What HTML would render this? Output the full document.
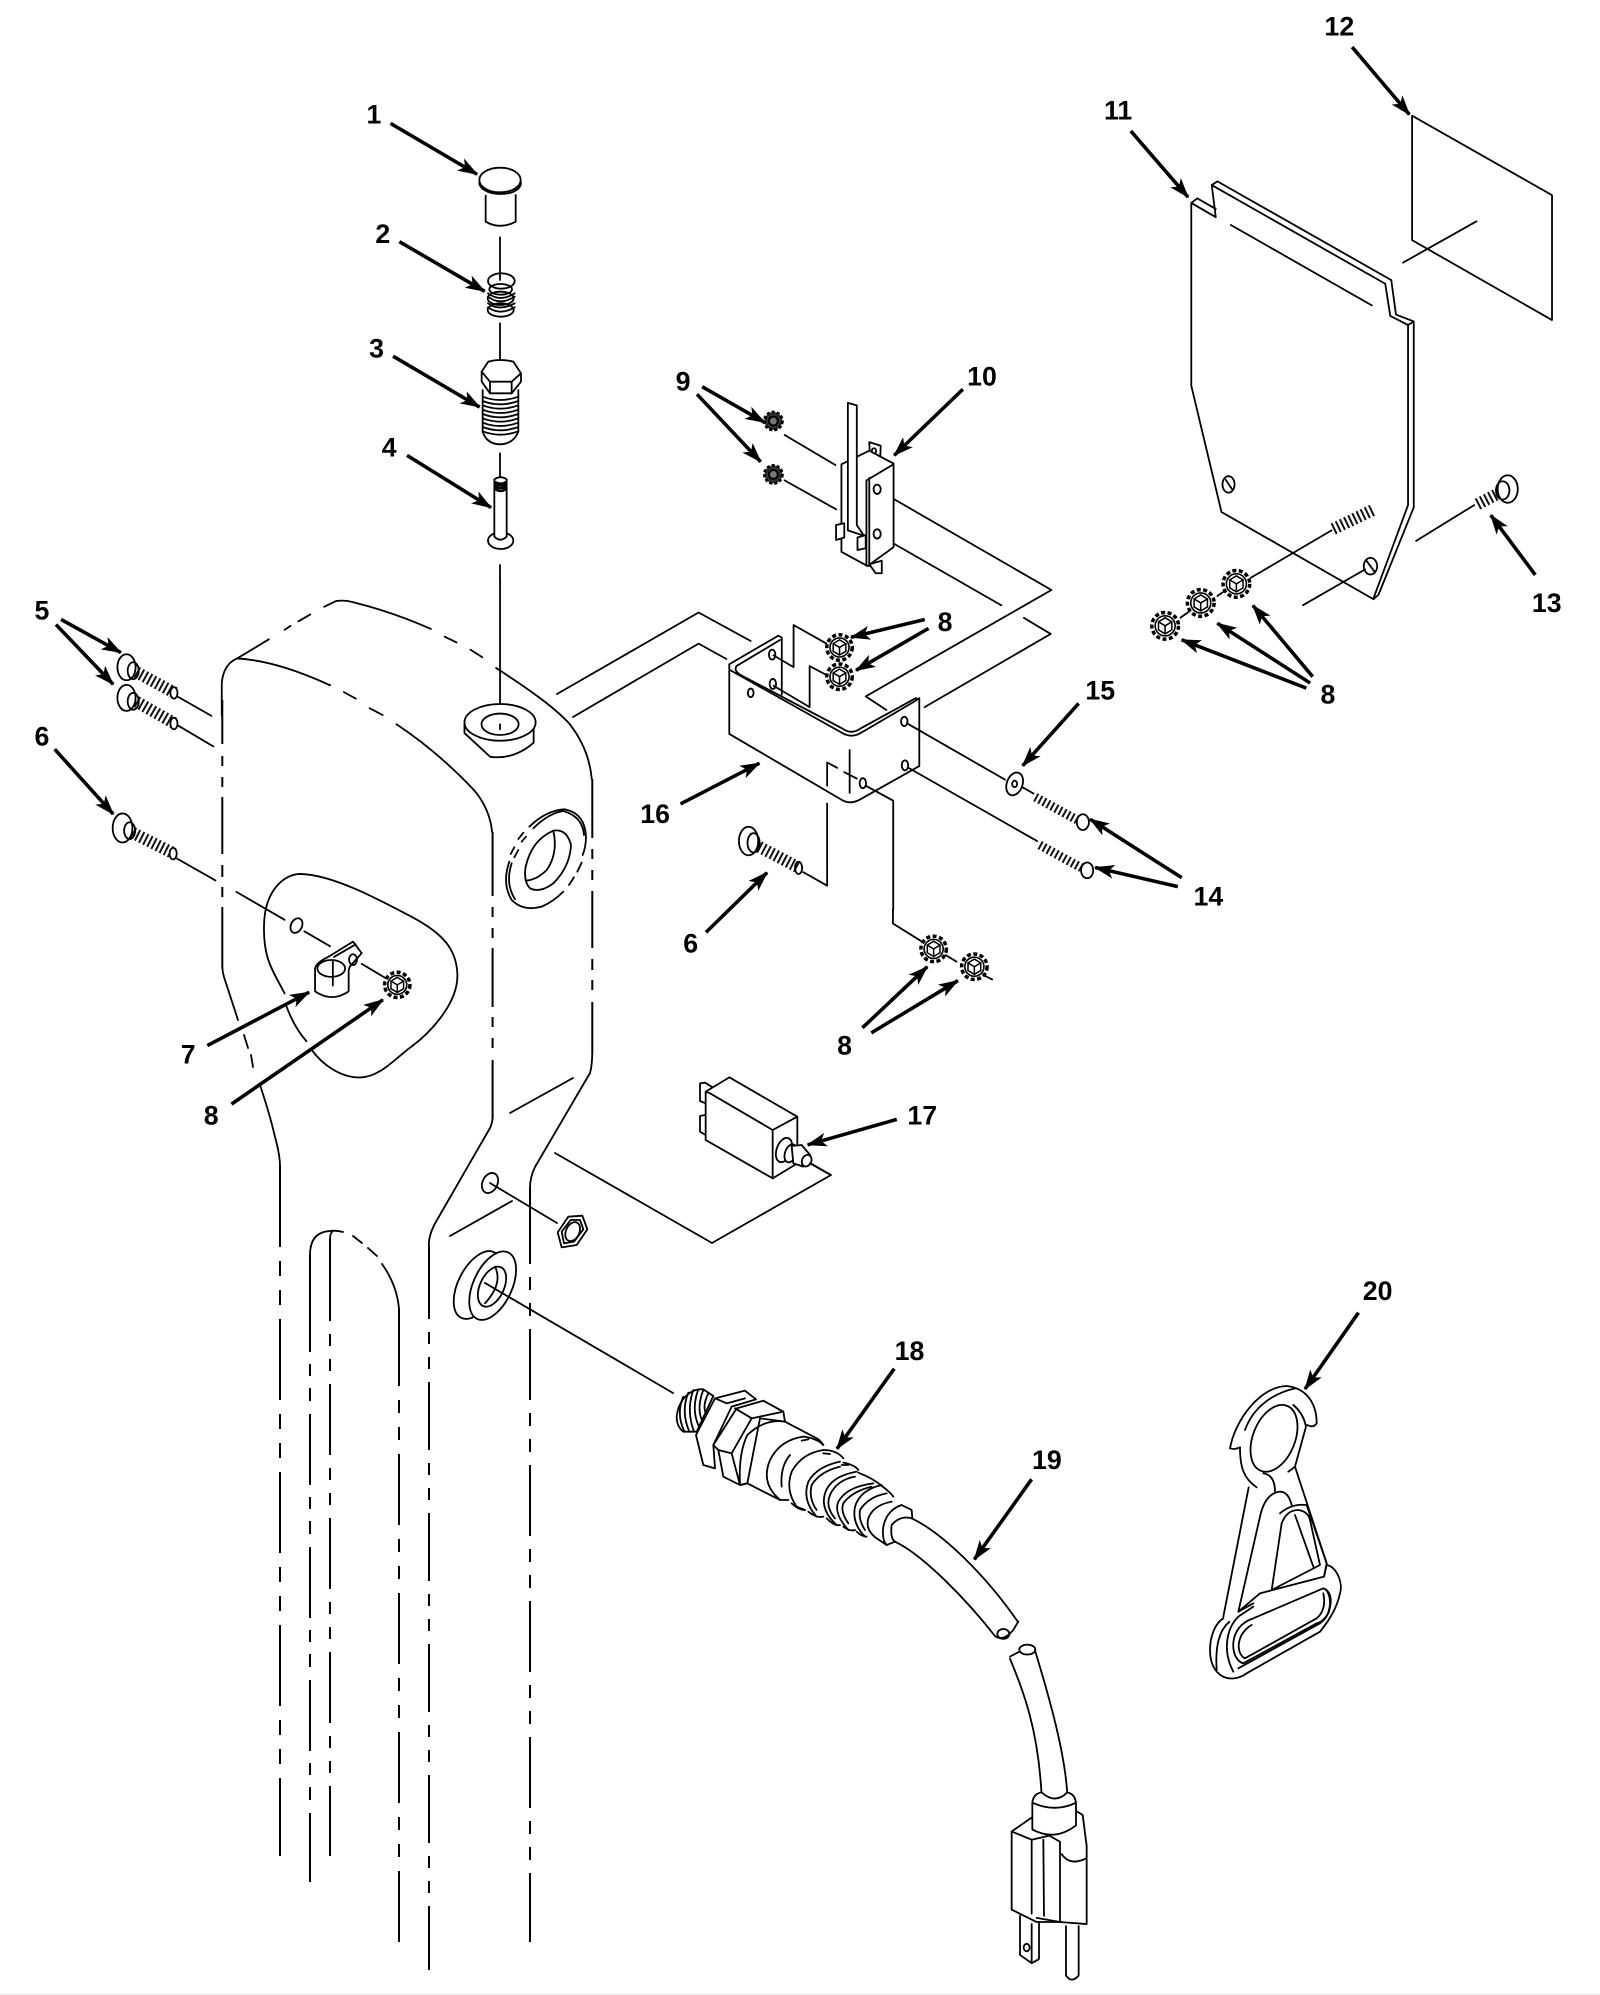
<!DOCTYPE html>
<html><head><meta charset="utf-8"><style>
html,body{margin:0;padding:0;background:#fff}
svg{display:block}
svg *{vector-effect:non-scaling-stroke}
.t{fill:none;stroke:#000;stroke-width:1.8;stroke-linejoin:round;stroke-linecap:round}
.w{fill:#fff;stroke:#000;stroke-width:1.8;stroke-linejoin:round}
.c{fill:none;stroke:#111;stroke-width:12;stroke-dasharray:2 2.6}
.p{fill:none;stroke:#000;stroke-width:2}
.a{stroke:#000;stroke-width:2.8;fill:none;vector-effect:none;marker-end:url(#ah)}
text{font-family:"Liberation Sans",sans-serif;font-weight:bold;font-size:21px;text-anchor:middle;fill:#000}
</style></head><body>
<svg xmlns="http://www.w3.org/2000/svg" width="1600" height="1995">
<defs>
<marker id="ah" markerUnits="userSpaceOnUse" markerWidth="20" markerHeight="14" refX="15" refY="7" orient="auto"><polygon points="0,1.5 16,7 0,12.5 4,7" fill="#000"/></marker>
<g id="n"><circle r="10" fill="#fff" stroke="#000" stroke-width="3.5" stroke-dasharray="4 2.5"/><circle r="7.5" fill="#fff" stroke="#000" stroke-width="1.6"/><path d="M-5,-3 L0,-6 L5,-3 L5,3 L0,6 L-5,3Z M0,0 L-5,-3 M0,0 L5,-3 M0,0 V6" fill="none" stroke="#000" stroke-width="1.5"/></g>
<g id="d"><circle r="7" fill="#333" stroke="#000" stroke-width="3" stroke-dasharray="3 2"/><circle r="3.5" fill="#777" stroke="#000" stroke-width="2"/></g>
</defs>
<rect x="0" y="1994" width="1600" height="1" fill="#e8e8e8"/>

<!-- lower body phantom lines (true px) -->
<path class="p" style="stroke-dasharray:81 14 15 14 15 14" d="M280,1166 V1856"/>
<path class="p" style="stroke-dasharray:71 12 12 12 13 13" d="M310,1281 V1882"/><path class="p" d="M310,1255 V1281"/>
<path class="p" style="stroke-dasharray:71 13 12 13 12 13" d="M330,1250 V1856"/><path class="p" d="M330,1239 V1250"/>
<path class="p" style="stroke-dasharray:71 14 13 14 13 14" d="M399,1315 V1944"/><path class="p" d="M399,1309 V1315"/>
<path class="p" style="stroke-dasharray:68 13 12 13 12 13" d="M429,1251 V1970"/><path class="p" d="M429,1247 V1251"/>
<path class="p" style="stroke-dasharray:71 13 13 13 13 13" d="M530,1193 V1942"/><path class="p" d="M530,1188 V1193"/>
<path class="p" d="M592.3,779 V838 M592.3,849 V859 M592.3,870 V880 M592.3,891 V948 M592.3,959 V970 M592.3,980 V990 M592.3,1002 V1053"/>
<path class="p" d="M492.6,832 V896 M492.6,907 V917 M492.6,928 V938 M492.6,948 V1007 M492.6,1017 V1027 M492.6,1038 V1048 M492.6,1060 V1118"/>
<path class="p" d="M222.3,700 V744 M222.3,756 V766 M222.3,777 V787 M222.3,797 V854 M222.3,865 V877 M222.3,887 V897 M222.3,907 V967"/>
<path class="t" d="M222.3,967 Q222.5,972 224,977 L238,1020 M244,1035 L248,1048 M251,1055 L253,1067 M260,1085 Q270,1115 275,1137 Q280,1155 280,1166"/>
<path class="t" d="M310,1255 Q310,1232 330,1231 Q336,1230 343,1232 M353,1236 L362,1243 M368,1248 L377,1256 M382,1264 Q397,1285 399,1309 M330,1239 Q330,1233 333,1231"/>
<path class="t" d="M592.3,1053 Q592,1066 590,1073 L535,1167 Q530,1177 530,1188 M492.6,1118 Q492,1124 490,1128 L437,1220 Q428,1235 429,1247"/>
<path class="t" d="M573,1078 L510,1113 M555,1153 L712,1243 L831,1175 L810,1163 M490,1183 L557,1223 M512,1201 L450,1236"/>
<path class="t" d="M557,694 L698.6,612.5 L750.7,641 M573,717 L698.6,643.6 L726.4,659"/>
<ellipse class="t" cx="490" cy="1183" rx="7.5" ry="10.5" transform="rotate(25 490 1183)"/>
<g transform="translate(420,1040) scale(.33333)">
<path class="w" d="M445,530 L487,527 L502,568 L470,615 L425,622 L413,577 Z"/>
<path class="t" d="M425,575 L452,540 L480,540 L490,568 L462,605 L432,610 Z"/>
<ellipse class="t" cx="458" cy="575" rx="20" ry="30" transform="rotate(25 458 575)"/>
<ellipse class="w" cx="173" cy="735" rx="58" ry="110" transform="rotate(27 173 735)"/>
<ellipse class="w" cx="218" cy="737" rx="58" ry="110" transform="rotate(25 218 737)"/>
<ellipse class="t" cx="216" cy="740" rx="36" ry="64" transform="rotate(25 216 740)"/>
<path class="t" d="M225,680 Q250,730 195,790"/>
</g>
<path class="t" d="M485,1283 L673,1393"/>

<!-- part 17 -->
<g transform="translate(420,1040) scale(.33333)">
<path class="w" d="M840,130 L855,128 L875,140 V195 L857,190 L840,183 Z M840,228 L855,225 L875,235 V290 L857,285 L840,275 Z"/>
<path class="w" d="M857,155 L928,112 L1132,230 V370 L1058,415 L857,300 Z"/>
<path class="t" d="M870,160 L1058,270 L1132,230 M857,155 L870,160 M1058,270 V415"/>
<ellipse class="w" cx="1092" cy="330" rx="22" ry="38" transform="rotate(20 1092 330)"/>
<ellipse class="w" cx="1112" cy="340" rx="17" ry="28" transform="rotate(20 1112 340)"/>
<path class="w" d="M1115,318 L1145,315 L1170,345 L1150,380 L1120,370 Z"/>
<ellipse class="w" cx="1160" cy="362" rx="14" ry="18" transform="rotate(25 1160 362)"/>
<path class="t" d="M1170,370 L1232,405"/>
</g>

<!-- zoom1: parts 1-4 -->
<g transform="translate(350,80) scale(.33333)">
<path class="t" d="M407,347 V425 Q450,450 497,425 V345"/>
<path class="w" d="M388,305 C388,345 513,345 513,305"/>
<ellipse class="w" cx="450" cy="300" rx="62" ry="37"/>
<path class="t" d="M450,472 V600 M450,730 V870 M450,1120 V1190 M450,1455 V1500 M388,312 C400,352 505,352 513,312"/>
<g class="t"><ellipse cx="454" cy="603" rx="40" ry="23"/><ellipse cx="452" cy="628" rx="34" ry="16"/><ellipse cx="452" cy="655" rx="39" ry="20"/><ellipse cx="452" cy="690" rx="39" ry="20"/><path d="M414,640 Q450,668 494,640 M414,670 Q450,695 494,670 M414,650 Q450,678 494,650 M414,682 Q450,708 494,682"/></g>
<path class="t" d="M398,930 V1055 Q410,1092 450,1093 Q490,1092 505,1055 V930"/>
<path class="t" d="M398,950 Q450,970 505,950 M398,963 Q450,983 505,963 M398,976 Q450,996 505,976 M398,989 Q450,1009 505,989 M398,1002 Q450,1022 505,1002 M398,1015 Q450,1035 505,1015 M398,1028 Q450,1048 505,1028 M398,1041 Q450,1061 505,1041 M398,1054 Q450,1074 505,1054"/>
<path class="w" d="M395,875 L415,845 Q450,835 490,845 L513,880 V905 L485,940 H420 L395,905 Z"/>
<path class="t" d="M395,875 L420,905 H485 L513,880 M420,905 V940 M485,905 V940"/>
<ellipse class="w" cx="452" cy="1382" rx="38" ry="25"/>
<path class="w" d="M433,1198 V1370 Q452,1388 470,1370 V1198 Q452,1185 433,1198Z"/>
<path class="t" d="M436,1206 Q452,1216 468,1206 M436,1212 Q452,1222 468,1212 M436,1220 Q452,1230 468,1220 M436,1228 Q452,1238 468,1228" style="stroke-width:2.4"/>
</g>

<!-- zoom2: switch/bracket -->
<g transform="translate(680,350) scale(.35714)">
<path class="t" d="M293,238 L435,322 M293,365 L437,446"/>
<path class="t" d="M560,395 L1040,672 L520,970 L578,1008 M560,520 L900,715 M963,750 L1038,795 L685,1000"/>
<path class="w" d="M530,258 L562,268 L560,318 L532,305 Z"/><ellipse class="t" cx="543" cy="283" rx="6" ry="8"/>
<path class="w" d="M452,320 L530,282 L598,318 V552 L525,605 L452,565 Z"/>
<path class="t" d="M522,365 L598,320 M522,365 V600 M530,358 V605"/>
<path class="w" d="M470,148 L495,155 V490 L515,520 L470,505 Z"/>
<path class="w" d="M437,490 L460,485 V525 L437,532 Z M497,525 L520,518 V555 L497,560 Z M530,600 L565,590 V625 L548,625 Z"/>
<ellipse class="t" cx="552" cy="390" rx="10" ry="13"/><ellipse class="t" cx="552" cy="515" rx="10" ry="13"/>
<path class="t" d="M262,855 L318,888 V770 L410,822 M262,940 L363,1000 V885 L410,910"/>
<path class="t" d="M138,880 L275,800 L285,805 V965 M158,885 L280,812"/>
<path class="t" d="M138,880 V1075 L450,1258 Q475,1275 505,1258 L670,1165 V975 L655,985 L510,1070 Q480,1090 450,1070 L138,895"/>
<path class="t" d="M158,885 Q150,898 170,910 L455,1060 Q480,1078 505,1060 L660,975 L670,978"/>
<g class="t"><ellipse cx="198" cy="960" rx="8" ry="12"/><ellipse cx="258" cy="853" rx="9" ry="14"/><ellipse cx="260" cy="935" rx="9" ry="14"/><ellipse cx="628" cy="1040" rx="9" ry="13"/><ellipse cx="630" cy="1163" rx="9" ry="14"/><ellipse cx="512" cy="1213" rx="9" ry="14"/></g>
<path class="t" d="M412,1155 V1220 M412,1270 V1500 L345,1462 M412,1155 L440,1170 M460,1182 L495,1200 M475,1120 V1240 M520,1220 L597,1262 V1568"/>
<path class="t" d="M635,1045 L910,1203 M960,1225 L990,1242 M640,1170 L1000,1375"/>
<ellipse class="w" cx="937" cy="1215" rx="22" ry="33" transform="rotate(20 937 1215)"/><ellipse class="t" cx="937" cy="1215" rx="7" ry="9"/>
<path class="c" d="M995,1252 L1112,1316" style="stroke-width:9"/><ellipse class="w" cx="1128" cy="1322" rx="17" ry="22"/>
<path class="c" d="M1007,1386 L1124,1450" style="stroke-width:9"/><ellipse class="w" cx="1140" cy="1457" rx="17" ry="22"/>
<path class="c" d="M210,1385 L330,1448"/><ellipse class="w" cx="192" cy="1375" rx="27" ry="40"/><ellipse class="t" cx="206" cy="1380" rx="17" ry="27"/><ellipse class="t" cx="332" cy="1450" rx="10" ry="17"/>
</g>

<!-- zoom3: panels -->
<g transform="translate(1100,0) scale(.33557,.45918)">
<path class="t" d="M930,252 L1347,425 V697 L930,523 Z M903,572 L1122,482"/>
<path class="t" d="M272,442 V840 L362,1115 L815,1305 L830,1295 L935,1105 V700 L918,708 V1100 L815,1303 M272,442 L345,473 L333,403 L350,395 L868,610 L882,685 L935,700 M333,403 L850,618 L865,688 L918,708 M272,442 L290,432 L345,455 M390,490 L810,665"/>
<ellipse class="t" cx="383" cy="1055" rx="18" ry="18"/><path class="t" d="M375,1045 L393,1065"/>
<ellipse class="t" cx="806" cy="1233" rx="20" ry="18"/><path class="t" d="M795,1222 L818,1245"/>
<path class="t" d="M450,1258 L690,1155 M605,1318 L790,1240 M942,1178 L1115,1100 M350,1298 L375,1285 M240,1345 L265,1332"/>
<path class="c" d="M695,1152 L815,1110"/>
<path class="c" d="M1125,1098 L1205,1068"/>
<ellipse class="w" cx="1215" cy="1065" rx="30" ry="30"/><ellipse class="t" cx="1200" cy="1068" rx="20" ry="20"/>
</g>

<!-- zoom4: body top -->
<g transform="translate(0,580) scale(.3953,.3827)">
<path class="t" d="M561,355 V270 Q565,220 600,205 C680,210 760,240 835,275 M870,293 L900,310 M935,335 L968,353 M1003,377 C1080,430 1150,495 1200,550 Q1240,600 1245,660"/>
<path class="t" d="M600,205 L680,155 M720,130 L735,120 M755,108 L785,90 M820,70 L850,55 Q870,52 890,57 C960,75 1030,100 1090,128 M1125,148 L1155,163 M1190,182 L1220,202 M1255,230 C1330,280 1400,330 1440,375 Q1490,440 1497,520"/>
<path class="t" d="M720,1080 C690,1020 665,990 668,900 C670,810 720,768 760,768 C840,770 950,830 1050,885 C1120,925 1155,965 1157,1030 C1160,1110 1080,1190 1040,1220 C1000,1250 960,1300 910,1300 C860,1300 815,1265 790,1230 M725,1115 Q745,1170 775,1205"/>
<path class="t" d="M450,305 L535,355 M450,380 L540,435 M448,728 L545,785 M598,815 L720,888 M770,918 L835,957 M915,1003 L975,1040 M1265,0 V390"/>
<ellipse class="t" cx="750" cy="903" rx="14" ry="20" transform="rotate(25 750 903)"/>
<path class="w" d="M797,1075 V1015 Q800,1000 830,985 L893,945 L915,975 L885,1010 L882,1020 V1075 Q840,1105 797,1075Z"/>
<ellipse class="w" cx="838" cy="1015" rx="35" ry="22"/>
<path class="t" d="M845,985 L900,952 M842,995 V1060"/><ellipse class="t" cx="893" cy="992" rx="10" ry="14"/>
<use href="#n" transform="translate(1005,1058) scale(3.2,3.3)"/>
<path class="w" d="M1175,375 V400 L1240,462 Q1300,470 1350,425 V375"/>
<ellipse class="w" cx="1265" cy="372" rx="90" ry="48"/><ellipse class="t" cx="1265" cy="377" rx="47" ry="28"/>
<path class="t" d="M1265,377 V390"/>
<path class="c" d="M335,235 L442,295"/><ellipse class="w" cx="320" cy="228" rx="23" ry="34"/><ellipse class="t" cx="337" cy="237" rx="14" ry="22"/><ellipse class="w" cx="440" cy="295" rx="9" ry="15"/>
<path class="c" d="M335,312 L442,375"/><ellipse class="w" cx="320" cy="308" rx="23" ry="34"/><ellipse class="t" cx="337" cy="317" rx="14" ry="22"/><ellipse class="w" cx="440" cy="375" rx="9" ry="15"/>
<path class="c" d="M325,655 L440,715"/><ellipse class="w" cx="310" cy="648" rx="25" ry="38"/><ellipse class="t" cx="328" cy="655" rx="14" ry="22"/><ellipse class="w" cx="438" cy="715" rx="9" ry="15"/>
</g>

<!-- large side washer -->
<g transform="translate(470,760) scale(.33333)">
<path class="t" d="M178,200 Q230,150 285,148 Q345,160 348,230 Q348,260 338,285 M190,205 Q235,160 280,153 Q338,170 342,225"/>
<path class="t" d="M145,237 L160,218 M155,245 L168,230 M122,282 L133,262 M133,292 L145,270 M297,375 L312,352 M322,335 L335,308"/>
<path class="t" d="M118,305 Q95,370 125,420 Q160,455 215,440 Q250,425 280,395 M125,310 Q105,370 135,418"/>
<path class="t" d="M250,212 Q290,205 303,255 Q300,320 250,370 Q210,400 180,385 Q160,365 167,320 Q185,240 250,212Z M250,212 Q265,280 230,330 Q200,360 167,362"/>
</g>

<!-- connector (crop 3 coords) -->
<g transform="translate(660,1370) scale(.33333)">
<path class="w" d="M50,140 C55,90 90,55 130,58 L160,78 L110,185 L70,185 Q50,170 50,140Z"/>
<path class="t" d="M70,80 Q48,130 72,182 M85,68 Q62,125 88,185 M100,60 Q78,120 102,185 M115,58 Q92,120 118,172 M130,60 Q108,115 128,155 M145,70 Q125,110 140,135"/>
<path class="w" d="M108,195 L165,85 L255,62 L288,88 L215,110 L160,225 L165,295 L130,285 Z"/>
<path class="t" d="M165,85 L200,100 L255,85"/>
<path class="w" d="M160,225 L230,115 L310,92 L370,125 L375,155 L300,145 L262,340 L240,345 L190,320 L175,240Z"/>
<path class="t" d="M225,115 L275,145 L370,125 M275,145 L215,250 L175,240 M215,250 L240,345 M375,155 Q315,145 262,195 Q235,250 240,345"/>
<path class="t" d="M375,155 L470,205 Q480,210 490,225 M240,345 L262,340 L360,390 L385,390"/>
<path class="t" d="M430,200 Q470,205 490,225 M490,240 Q530,240 550,265 M550,278 Q585,285 595,300 M595,308 Q640,325 668,350 M655,340 Q690,365 700,380"/>
<path class="t" d="M395,400 Q415,420 435,420 M445,425 Q470,445 490,440 M500,445 Q525,470 540,465 M550,470 Q570,485 585,480 M590,485 Q605,500 620,500"/>
<path class="t" d="M430,200 Q360,210 330,270 Q305,330 345,375 L360,390 M390,255 Q360,290 365,350"/>
<path class="t" d="M490,240 Q425,250 395,305 Q375,360 410,410 L435,420"/>
<path class="t" d="M540,275 Q470,290 445,335 Q425,390 470,440 M540,290 Q480,305 455,345 Q445,385 470,420"/>
<path class="t" d="M590,305 Q510,320 495,370 Q480,420 530,465 M585,320 Q530,330 510,375 Q495,410 525,445"/>
<path class="t" d="M640,340 Q560,350 535,395 Q520,430 565,480 M635,350 Q575,365 550,400 Q540,425 565,460"/>
<path class="t" d="M665,345 Q600,360 585,410 Q575,460 615,500 M680,370 Q625,380 600,420 Q595,450 615,480"/>
<path class="t" d="M695,395 Q640,405 625,445 Q615,480 650,505 L680,525"/>
<path class="t" d="M725,405 Q680,420 670,470 Q665,510 680,525 L705,515 M725,405 L755,420 L757,445 Q720,435 695,465 Q690,505 705,515"/>
<path class="t" d="M425,212 L445,208 M490,250 L510,252 M545,285 L565,285"/>
<path class="t" d="M755,445 C850,490 980,620 1074,756 M705,515 C790,555 920,690 1005,798"/>
</g>

<!-- zoom5: cable ends and plug -->
<g transform="translate(660,1350) scale(.33333,.41152)">
<path class="t" d="M1005,695 Q1030,710 1060,680 L1075,660"/><ellipse class="t" cx="1030" cy="690" rx="18" ry="12"/>
<path class="t" d="M1050,750 C1090,830 1135,920 1145,1085 M1125,730 C1170,850 1215,980 1222,1080 M1050,745 L1078,733"/><ellipse class="t" cx="1102" cy="728" rx="24" ry="12"/>
<path class="w" d="M1117,1135 L1055,1170 V1360 L1130,1390 L1200,1390 L1280,1395 V1205 L1268,1130 L1248,1120 Z"/>
<path class="t" d="M1055,1170 L1115,1190 V1370 M1115,1190 L1168,1180 L1200,1195 V1390 M1150,1190 L1152,1375 M1205,1225 Q1230,1255 1280,1235 M1130,1380 L1200,1390"/>
<path class="w" d="M1117,1100 Q1120,1078 1145,1075 Q1185,1105 1222,1075 Q1248,1080 1248,1105 V1155 Q1185,1195 1117,1165 Z"/>
<path class="t" d="M1117,1100 Q1185,1125 1248,1100"/>
<path class="t" d="M1080,1375 V1470 L1115,1490 L1137,1480 V1390 M1115,1490 V1395"/><circle class="t" cx="1100" cy="1452" r="9"/>
<path class="t" d="M1218,1400 V1520 Q1235,1540 1256,1520 V1400"/>
</g>

<!-- zoom6: hook -->
<g transform="translate(1180,1360) scale(.33333)">
<path class="t" d="M150,265 C165,180 240,80 320,78 C380,85 410,130 410,190 Q400,205 382,195 M150,265 Q165,270 180,262 M195,210 C220,140 280,100 345,85"/>
<ellipse class="t" cx="282" cy="235" rx="63" ry="105" transform="rotate(22 282 235)"/>
<path class="t" d="M180,262 C180,320 190,355 230,382 M340,135 Q370,160 378,200 L345,320 L325,335 M250,340 Q285,345 285,395"/>
<path class="t" d="M206,382 L130,770 M345,320 L440,610 M175,755 L240,470 Q255,400 300,395 Q325,395 335,435"/>
<path class="t" d="M275,690 L305,490 Q320,450 355,450 Q385,455 390,480 L420,615 Z M345,465 L400,620 M300,460 Q335,430 380,435 L440,610 L432,650 L240,700 L175,755 L220,730"/>
<path class="t" d="M432,650 L440,615 C470,620 490,670 480,700 C470,750 440,790 420,815 L200,940 C150,975 90,950 90,870 C90,830 105,790 130,775"/>
<path class="t" d="M110,930 C105,850 120,810 148,785 M160,935 C130,880 135,810 175,770 L220,740 M175,925 L420,790 C450,770 460,720 438,688"/>
<path class="t" d="M220,775 L430,685 Q465,700 445,760 Q430,785 410,790 L190,910 C150,900 140,800 220,775Z M215,795 C170,820 165,880 195,895 L410,775 Q440,750 430,700"/>
</g>

<!-- small hardware, arrows and labels -->
<g transform="scale(1.272)">
<path class="t" d="M702,715 V726 L726,741 M742,750 L752,756 M772,766 L780,770"/>
<use href="#d" transform="translate(608,331)"/><use href="#d" transform="translate(608,373)"/>
<use href="#n" transform="translate(660,509)"/><use href="#n" transform="translate(660,532)"/>
<use href="#n" transform="translate(734,746)"/><use href="#n" transform="translate(766,760)"/>
<use href="#n" transform="translate(972,459) scale(1.05)"/><use href="#n" transform="translate(944,474) scale(1.05)"/><use href="#n" transform="translate(916,492) scale(1.05)"/>

<path class="a" d="M307,97 L375,137"/><path class="a" d="M314,190 L381,229"/><path class="a" d="M309,280 L377,320"/><path class="a" d="M320,358 L386,399"/>
<path class="a" d="M48,487 L95,513"/><path class="a" d="M44,491 L89,538"/><path class="a" d="M43,589 L89,640"/>
<path class="a" d="M163,822 L243,780"/><path class="a" d="M182,868 L301,786"/>
<path class="a" d="M552,304 L601,332"/><path class="a" d="M548,310 L598,363"/>
<path class="a" d="M757,306 L703,358"/>
<path class="a" d="M727,487 L669,501"/><path class="a" d="M730,494 L673,527"/>
<path class="a" d="M848,553 L804,602"/>
<path class="a" d="M929,690 L857,644"/><path class="a" d="M926,697 L861,682"/>
<path class="a" d="M535,632 L597,600"/>
<path class="a" d="M555,733 L603,686"/>
<path class="a" d="M678,808 L729,760"/><path class="a" d="M685,812 L753,771"/>
<path class="a" d="M705,880 L635,900"/>
<path class="a" d="M703,1076 L658,1139"/>
<path class="a" d="M811,1163 L766,1226"/>
<path class="a" d="M1068,1032 L1026,1092"/>
<path class="a" d="M889,103 L934,155"/><path class="a" d="M1063,37 L1108,90"/><path class="a" d="M1207,452 L1172,405"/>
<path class="a" d="M1032,532 L985,476"/><path class="a" d="M1030,537 L957,490"/><path class="a" d="M1027,541 L929,503"/>
<g>
<text x="294" y="97">1</text><text x="301" y="191">2</text><text x="296" y="281">3</text><text x="306" y="359">4</text>
<text x="33" y="487">5</text><text x="33" y="586">6</text><text x="148" y="836">7</text><text x="166" y="884">8</text>
<text x="537" y="307">9</text><text x="772" y="303">10</text><text x="879" y="94">11</text><text x="1053" y="28">12</text>
<text x="1216" y="481">13</text><text x="950" y="712">14</text><text x="865" y="550">15</text><text x="515" y="647">16</text>
<text x="743" y="496">8</text><text x="1044" y="553">8</text><text x="543" y="749">6</text><text x="664" y="829">8</text>
<text x="725" y="884">17</text><text x="715" y="1069">18</text><text x="823" y="1155">19</text><text x="1083" y="1022">20</text>
</g>
</g>
</svg>
</body></html>
